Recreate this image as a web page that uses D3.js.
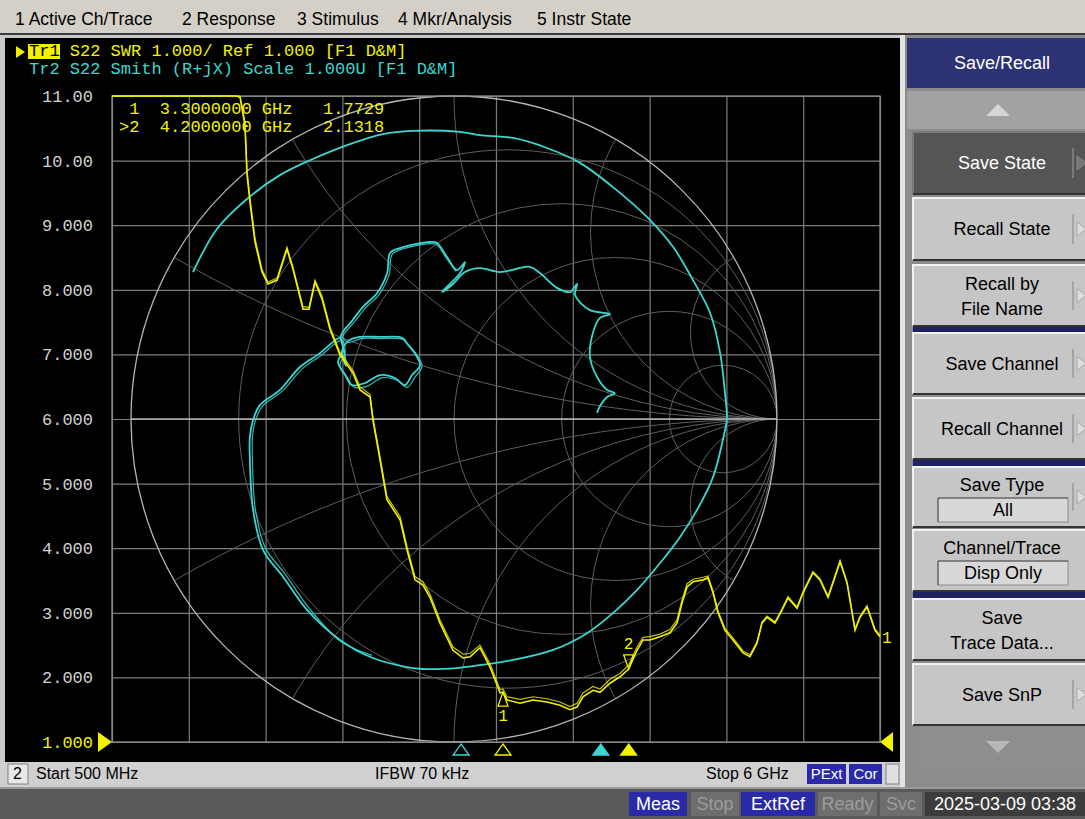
<!DOCTYPE html>
<html>
<head>
<meta charset="utf-8">
<script src="https://cdn.jsdelivr.net/npm/d3@7"></script>
<style>
html, body { margin: 0; padding: 0; background: #d4d0c8; overflow: hidden; }
svg { display: block; }
text { white-space: pre; }
</style>
</head>
<body>
<svg id="chart" width="1085" height="819"></svg>
<script>
// ---- data ----
const menuItems = ["1 Active Ch/Trace", "2 Response", "3 Stimulus", "4 Mkr/Analysis", "5 Instr State"];
const yTicks = [11, 10, 9, 8, 7, 6, 5, 4, 3, 2, 1];
const yTickLabels = ["11.00", "10.00", "9.000", "8.000", "7.000", "6.000", "5.000", "4.000", "3.000", "2.000", "1.000"];

// Tr1: S22 SWR vs frequency (GHz), data and memory
const freqGHz = [0.500,0.772,1.130,1.388,1.417,1.452,1.467,1.488,1.524,1.574,
  1.617,1.682,1.753,1.796,1.868,1.911,1.954,2.004,2.061,2.133,
  2.226,2.276,2.348,2.369,2.419,2.469,2.563,2.613,2.670,2.727,
  2.777,2.849,2.942,3.014,3.064,3.135,3.207,3.279,3.300,3.329,
  3.422,3.515,3.615,3.708,3.780,3.830,3.873,3.945,3.995,4.066,
  4.138,4.200,4.260,4.303,4.353,4.424,4.496,4.546,4.582,4.618,
  4.661,4.732,4.768,4.804,4.840,4.890,4.947,5.019,5.069,5.119,
  5.155,5.191,5.248,5.298,5.341,5.406,5.449,5.520,5.570,5.628,
  5.663,5.714,5.764,5.821,5.857,5.907,5.964,6.000];
const swrData = [14.0,13.2,12.4,11.4,10.98,10.55,9.78,9.36,8.74,8.28,
  8.09,8.15,8.63,8.32,7.70,7.70,8.12,7.86,7.39,6.99,
  6.71,6.45,6.34,5.98,5.37,4.75,4.44,3.97,3.51,3.43,
  3.24,2.84,2.42,2.30,2.32,2.46,2.16,1.76,1.77,1.65,
  1.60,1.65,1.62,1.57,1.50,1.54,1.70,1.80,1.77,1.91,
  2.01,2.13,2.42,2.58,2.58,2.63,2.69,2.84,3.15,3.40,
  3.48,3.51,3.54,3.31,3.00,2.73,2.58,2.38,2.32,2.53,
  2.84,2.93,2.84,3.04,3.23,3.07,3.31,3.62,3.51,3.24,
  3.46,3.79,3.46,2.73,2.93,3.09,2.73,2.63];
const swrMem = [14.2,13.4,12.5,11.5,11.05,10.6,9.85,9.42,8.80,8.32,
  8.12,8.18,8.66,8.35,7.74,7.73,8.15,7.90,7.43,7.03,
  6.75,6.50,6.38,6.02,5.42,4.80,4.49,4.02,3.56,3.48,
  3.29,2.89,2.47,2.36,2.37,2.50,2.21,1.81,1.82,1.70,
  1.66,1.70,1.67,1.62,1.55,1.60,1.76,1.86,1.82,1.97,
  2.06,2.19,2.47,2.62,2.63,2.67,2.74,2.89,3.20,3.45,
  3.52,3.55,3.57,3.34,3.03,2.76,2.61,2.41,2.35,2.55,
  2.86,2.95,2.86,3.06,3.25,3.09,3.33,3.64,3.53,3.26,
  3.48,3.81,3.48,2.75,2.95,3.11,2.75,2.65];

// Tr2: S22 reflection coefficient (real, imag) in sweep order
const gammaRe = [-0.808,-0.734,-0.641,-0.539,-0.437,-0.331,-0.220,-0.127,0.019,0.080,
  0.183,0.288,0.390,0.492,0.598,0.678,0.740,0.793,0.824,0.839,
  0.845,0.839,0.802,0.752,0.700,0.638,0.567,0.492,0.412,0.307,
  0.183,0.080,0.009,-0.096,-0.146,-0.251,-0.353,-0.455,-0.529,-0.591,
  -0.622,-0.632,-0.632,-0.622,-0.601,-0.539,-0.477,-0.415,-0.375,-0.353,
  -0.344,-0.359,-0.337,-0.316,-0.276,-0.229,-0.183,-0.152,-0.130,-0.105,
  -0.124,-0.142,-0.161,-0.229,-0.291,-0.328,-0.347,-0.334,-0.341,-0.350,
  -0.313,-0.282,-0.238,-0.207,-0.198,-0.167,-0.074,-0.053,-0.022,0.009,
  0.034,0.019,-0.022,-0.037,-0.003,0.034,0.080,0.142,0.235,0.266,
  0.319,0.359,0.381,0.375,0.421,0.483,0.452,0.430,0.421,0.443,
  0.474,0.498,0.474,0.452,0.443];
const gammaIm = [0.455,0.588,0.681,0.755,0.805,0.848,0.882,0.892,0.889,0.879,
  0.870,0.839,0.793,0.718,0.625,0.533,0.430,0.328,0.204,0.080,
  0.000,-0.034,-0.180,-0.282,-0.365,-0.446,-0.529,-0.601,-0.663,-0.715,
  -0.746,-0.762,-0.771,-0.774,-0.768,-0.740,-0.684,-0.591,-0.489,-0.406,
  -0.282,-0.127,-0.056,-0.003,0.043,0.090,0.161,0.204,0.238,0.251,
  0.214,0.176,0.136,0.105,0.111,0.136,0.127,0.105,0.136,0.167,
  0.207,0.229,0.251,0.254,0.254,0.241,0.207,0.164,0.214,0.257,
  0.307,0.347,0.390,0.452,0.514,0.529,0.548,0.545,0.502,0.461,
  0.486,0.452,0.409,0.393,0.418,0.455,0.467,0.455,0.471,0.452,
  0.406,0.393,0.418,0.384,0.337,0.325,0.313,0.266,0.192,0.130,
  0.090,0.080,0.068,0.040,0.019];
// memory trace, only where it separates from the data trace
const gammaMemRe = [-0.254,-0.350,-0.450,-0.522,-0.584,-0.615,-0.624,-0.624,-0.615,-0.593,
  -0.531,-0.469,-0.410,-0.370,-0.347,-0.337,-0.353,-0.330,-0.308,-0.268,
  -0.221,-0.175,-0.144,-0.122,-0.099,-0.118,-0.138,-0.158,-0.226,-0.288,
  -0.325,-0.344,-0.307,-0.276,-0.232,-0.201,-0.192,-0.163,-0.073,-0.054,
  -0.023,0.006];
const gammaMemIm = [-0.732,-0.689,-0.584,-0.481,-0.399,-0.279,-0.127,-0.056,-0.005,0.040,
  0.087,0.156,0.198,0.232,0.245,0.206,0.167,0.128,0.098,0.102,
  0.128,0.119,0.098,0.128,0.163,0.203,0.226,0.246,0.249,0.249,
  0.237,0.254,0.302,0.342,0.385,0.447,0.509,0.525,0.543,0.540,
  0.497,0.457];

const smithR = [0.2, 0.5, 1, 2, 5];
const smithX = [0.268, 0.577, 1, 1.732, 3.732];

const tr1MarkerFreq = [3.3, 4.2];
const tr1MarkerSwr = [1.7729, 2.1318];
const tr2MarkerFreq = [3.0, 4.0];

const softkeyLabels = [["Save State"], ["Recall State"], ["Recall by", "File Name"], ["Save Channel"],
  ["Recall Channel"], ["Save Type"], ["Channel/Trace"], ["Save", "Trace Data..."], ["Save SnP"]];
const softkeySettings = ["", "", "", "", "", "All", "Disp Only", "", ""];
const statusItems = ["Meas", "Stop", "ExtRef", "Ready", "Svc"];
const clockText = "2025-03-09 03:38";

// ---- drawing ----
const mono = "'Liberation Mono', 'DejaVu Sans Mono', monospace";
const sans = "'Liberation Sans', Arial, sans-serif";
const YEL = "#f2f200", CYN = "#3cd6d0";

const svg = d3.select("#chart");

// menu bar
svg.append("rect").attr("width", 1085).attr("height", 34).attr("fill", "#d4d0c8");
svg.append("rect").attr("y", 33).attr("width", 1085).attr("height", 2).attr("fill", "#3a3a3a");
const menuX = [15, 182, 297, 398, 537];
svg.selectAll("text.menu").data(menuItems).join("text")
  .attr("class", "menu").attr("x", (d, i) => menuX[i]).attr("y", 25)
  .attr("font-family", sans).attr("font-size", 17.5).attr("fill", "#000").text(d => d);

// chart window
svg.append("rect").attr("x", 0).attr("y", 35).attr("width", 905).attr("height", 727).attr("fill", "#c8c8c8");
svg.append("rect").attr("x", 5).attr("y", 38).attr("width", 895).attr("height", 724).attr("fill", "#000");

const plot = { left: 112, right: 880, top: 96, bottom: 742 };
const x = d3.scaleLinear().domain([0.5, 6]).range([plot.left, plot.right]);
const y = d3.scaleLinear().domain([1, 11]).range([plot.bottom, plot.top]).clamp(true);
const gx = d3.scaleLinear().domain([-1, 1]).range([131, 777]);
const gy = d3.scaleLinear().domain([-1, 1]).range([plot.bottom, plot.top]);
const R = gx(1) - gx(0);

// rectangular graticule
const xGrid = d3.range(11).map(i => 0.5 + i * 0.55);
const gridG = svg.append("g");
gridG.append("g").attr("transform", `translate(0,${plot.bottom})`)
  .call(d3.axisBottom(x).tickValues(xGrid).tickSize(-(plot.bottom - plot.top)).tickFormat(""))
  .call(g => g.select(".domain").remove())
  .call(g => g.selectAll("line").attr("stroke", "#7c7c7c").attr("stroke-width", 1.2));
gridG.append("g").attr("transform", `translate(${plot.left},0)`)
  .call(d3.axisLeft(y).tickValues(yTicks).tickSize(-(plot.right - plot.left)).tickFormat(""))
  .call(g => g.select(".domain").remove())
  .call(g => g.selectAll("line").attr("stroke", "#7c7c7c").attr("stroke-width", 1.2));

// smith grid
svg.append("clipPath").attr("id", "unit").append("circle")
  .attr("cx", gx(0)).attr("cy", gy(0)).attr("r", R);
const sg = svg.append("g").attr("clip-path", "url(#unit)").attr("fill", "none")
  .attr("stroke", "#5e5e5e").attr("stroke-width", 1);
sg.selectAll("circle.r").data(smithR).join("circle").attr("class", "r")
  .attr("cx", r => gx(r / (r + 1))).attr("cy", gy(0)).attr("r", r => R / (r + 1));
const xArcs = smithX.flatMap(v => [v, -v]);
sg.selectAll("circle.x").data(xArcs).join("circle").attr("class", "x")
  .attr("cx", gx(1)).attr("cy", v => gy(1 / v)).attr("r", v => R / Math.abs(v));
svg.append("line").attr("x1", gx(-1)).attr("x2", gx(1)).attr("y1", gy(0)).attr("y2", gy(0))
  .attr("stroke", "#b4b4b4").attr("stroke-width", 1.3);
svg.append("circle").attr("cx", gx(0)).attr("cy", gy(0)).attr("r", R)
  .attr("fill", "none").attr("stroke", "#b4b4b4").attr("stroke-width", 1.3);

// plot frame
svg.append("rect").attr("x", plot.left).attr("y", plot.top)
  .attr("width", plot.right - plot.left).attr("height", plot.bottom - plot.top)
  .attr("fill", "none").attr("stroke", "#8a8a8a").attr("stroke-width", 1.3);

// y labels
const ag = svg.append("g").attr("transform", `translate(${plot.left},0)`)
  .call(d3.axisLeft(y).tickValues(yTicks).tickFormat((d, i) => yTickLabels[i]).tickSize(0).tickPadding(19));
ag.select(".domain").remove();
ag.selectAll("text").attr("font-family", mono).attr("font-size", 17)
  .attr("fill", d => d === 1 ? YEL : "#d2d2d2");

// reference position arrows
svg.append("path").attr("d", `M${plot.left - 14},${y(1) - 10}L${plot.left},${y(1)}L${plot.left - 14},${y(1) + 10}Z`).attr("fill", YEL);
svg.append("path").attr("d", `M${plot.right + 13},${y(1) - 10}L${plot.right},${y(1)}L${plot.right + 13},${y(1) + 10}Z`).attr("fill", YEL);

// Tr2 smith trace (memory then data)
const smithLine = d3.line().x(d => gx(d[0])).y(d => gy(d[1])).curve(d3.curveCatmullRom.alpha(0.5));
svg.append("path").datum(gammaMemRe.map((v, i) => [v, gammaMemIm[i]]))
  .attr("d", smithLine).attr("fill", "none").attr("stroke", CYN).attr("stroke-width", 1.2).attr("opacity", 0.85);
svg.append("path").datum(gammaRe.map((v, i) => [v, gammaIm[i]]))
  .attr("d", smithLine).attr("fill", "none").attr("stroke", CYN).attr("stroke-width", 1.8);

// Tr1 swr trace (memory then data)
const swrLine = d3.line().x(d => x(d[0])).y(d => y(d[1]));
svg.append("path").datum(freqGHz.map((f, i) => [f, swrMem[i]]))
  .attr("d", swrLine).attr("fill", "none").attr("stroke", YEL).attr("stroke-width", 1.2).attr("opacity", 0.8);
svg.append("path").datum(freqGHz.map((f, i) => [f, swrData[i]]))
  .attr("d", swrLine).attr("fill", "none").attr("stroke", YEL).attr("stroke-width", 1.6);

// trace end label
svg.append("text").attr("x", x(6) + 2).attr("y", y(swrData[swrData.length - 1]) + 6)
  .attr("font-family", mono).attr("font-size", 16).attr("fill", YEL).text("1");

// markers on Tr1
const m1x = x(tr1MarkerFreq[0]), m1y = y(tr1MarkerSwr[0]);
svg.append("path").attr("d", `M${m1x},${m1y}L${m1x + 5},${m1y + 14}L${m1x - 5},${m1y + 14}Z`)
  .attr("fill", "none").attr("stroke", YEL).attr("stroke-width", 1.3);
svg.append("text").attr("x", m1x).attr("y", m1y + 29).attr("text-anchor", "middle")
  .attr("font-family", mono).attr("font-size", 16).attr("fill", YEL).text("1");
const m2x = x(tr1MarkerFreq[1]), m2y = y(tr1MarkerSwr[1]);
svg.append("path").attr("d", `M${m2x},${m2y}L${m2x + 5},${m2y - 14}L${m2x - 5},${m2y - 14}Z`)
  .attr("fill", "none").attr("stroke", YEL).attr("stroke-width", 1.3);
svg.append("text").attr("x", m2x).attr("y", m2y - 20).attr("text-anchor", "middle")
  .attr("font-family", mono).attr("font-size", 16).attr("fill", YEL).text("2");

// stimulus marker indicators under the graticule
const tri = (cx, top) => `M${cx},${top}L${cx + 8},${top + 11}L${cx - 8},${top + 11}Z`;
const indicators = [
  { f: tr2MarkerFreq[0], c: CYN, filled: false },
  { f: tr1MarkerFreq[0], c: YEL, filled: false },
  { f: tr2MarkerFreq[1], c: CYN, filled: true },
  { f: tr1MarkerFreq[1], c: YEL, filled: true }
];
svg.selectAll("path.ind").data(indicators).join("path").attr("class", "ind")
  .attr("d", d => tri(x(d.f), plot.bottom + 2))
  .attr("fill", d => d.filled ? d.c : "none").attr("stroke", d => d.c).attr("stroke-width", 1.3);

// marker readout
const fmtF = d3.format(".7f");
const readout = [
  " 1  " + fmtF(tr1MarkerFreq[0]) + " GHz   " + d3.format(".4f")(tr1MarkerSwr[0]),
  ">2  " + fmtF(tr1MarkerFreq[1]) + " GHz   " + d3.format(".4f")(tr1MarkerSwr[1])
];
svg.selectAll("text.readout").data(readout).join("text").attr("class", "readout")
  .attr("x", 119).attr("y", (d, i) => 114 + i * 18)
  .attr("font-family", mono).attr("font-size", 17).attr("fill", YEL).text(d => d);

// trace header
svg.append("path").attr("d", "M16,46L25,52L16,58Z").attr("fill", YEL);
svg.append("rect").attr("x", 28).attr("y", 44).attr("width", 32).attr("height", 15).attr("fill", YEL);
const h1 = svg.append("text").attr("x", 29).attr("y", 56).attr("font-family", mono).attr("font-size", 17);
h1.append("tspan").attr("fill", "#000").text("Tr1");
h1.append("tspan").attr("fill", YEL).text(" S22 SWR 1.000/ Ref 1.000 [F1 D&M]");
svg.append("text").attr("x", 29).attr("y", 74).attr("font-family", mono).attr("font-size", 17)
  .attr("fill", CYN).text("Tr2 S22 Smith (R+jX) Scale 1.000U [F1 D&M]");

// channel status row
svg.append("rect").attr("x", 0).attr("y", 762).attr("width", 905).attr("height", 25).attr("fill", "#d0d0d0");
svg.append("rect").attr("x", 8).attr("y", 764).attr("width", 20).attr("height", 20)
  .attr("fill", "#e8e8e8").attr("stroke", "#808080");
const rowText = [{ t: "2", x: 13 }, { t: "Start 500 MHz", x: 36 }, { t: "IFBW 70 kHz", x: 375 }, { t: "Stop 6 GHz", x: 706 }];
svg.selectAll("text.row").data(rowText).join("text").attr("class", "row")
  .attr("x", d => d.x).attr("y", 779).attr("font-family", sans).attr("font-size", 16)
  .attr("fill", "#000").text(d => d.t);
[{ t: "PExt", x: 807, w: 39 }, { t: "Cor", x: 849, w: 33 }].forEach(b => {
  svg.append("rect").attr("x", b.x).attr("y", 764).attr("width", b.w).attr("height", 20).attr("fill", "#2a2aa8");
  svg.append("text").attr("x", b.x + b.w / 2).attr("y", 779).attr("text-anchor", "middle")
    .attr("font-family", sans).attr("font-size", 15).attr("fill", "#fff").text(b.t);
});
svg.append("rect").attr("x", 886).attr("y", 764).attr("width", 13).attr("height", 20)
  .attr("fill", "#e0e0e0").attr("stroke", "#808080");

// bottom instrument status bar
svg.append("rect").attr("x", 0).attr("y", 787).attr("width", 1085).attr("height", 32).attr("fill", "#5a5a5a");
svg.append("rect").attr("x", 0).attr("y", 787).attr("width", 1085).attr("height", 2).attr("fill", "#9a9a9a");
const statX = [629, 691, 741, 818, 880], statW = [58, 48, 74, 59, 42];
const statOn = [true, false, true, false, false];
statusItems.forEach((s, i) => {
  svg.append("rect").attr("x", statX[i]).attr("y", 792).attr("width", statW[i]).attr("height", 24)
    .attr("fill", statOn[i] ? "#2a2aa8" : "#6e6e6e");
  svg.append("text").attr("x", statX[i] + statW[i] / 2).attr("y", 810).attr("text-anchor", "middle")
    .attr("font-family", sans).attr("font-size", 18).attr("fill", statOn[i] ? "#fff" : "#9c9c9c").text(s);
});
svg.append("rect").attr("x", 925).attr("y", 792).attr("width", 160).attr("height", 24).attr("fill", "#3c3c3c");
svg.append("text").attr("x", 1005).attr("y", 810).attr("text-anchor", "middle")
  .attr("font-family", sans).attr("font-size", 18).attr("fill", "#fff").text(clockText);

// softkey panel
svg.append("rect").attr("x", 900).attr("y", 35).attr("width", 185).attr("height", 752).attr("fill", "#8c8c8c");
svg.append("rect").attr("x", 900).attr("y", 35).attr("width", 7).attr("height", 752).attr("fill", "#e4e4e4");
svg.append("line").attr("x1", 906).attr("x2", 906).attr("y1", 35).attr("y2", 787).attr("stroke", "#303030");
svg.append("rect").attr("x", 907).attr("y", 38).attr("width", 178).attr("height", 50).attr("fill", "#2d3274");
svg.append("text").attr("x", 1002).attr("y", 69).attr("text-anchor", "middle")
  .attr("font-family", sans).attr("font-size", 18).attr("fill", "#fff").text("Save/Recall");
svg.append("rect").attr("x", 907).attr("y", 91).attr("width", 178).attr("height", 38).attr("fill", "#a2a2a2");
svg.append("path").attr("d", "M998,104L1010,116L986,116Z").attr("fill", "#d6d6d6");
svg.append("rect").attr("x", 913).attr("y", 728).attr("width", 172).attr("height", 40).attr("fill", "#8e8e8e");
svg.append("path").attr("d", "M986,741L1010,741L998,753Z").attr("fill", "#b8b8b8");

const keyTop = [132, 198, 265, 333, 398, 467, 530, 599, 664];
const keyH = [62, 62, 61, 61, 61, 60, 61, 61, 61];
const keyArrow = [true, true, true, true, true, true, false, false, true];
[[327, 6], [460, 6], [592, 7]].forEach(s =>
  svg.append("rect").attr("x", 913).attr("y", s[0]).attr("width", 172).attr("height", s[1]).attr("fill", "#1e2260"));

softkeyLabels.forEach((lines, i) => {
  const top = keyTop[i], h = keyH[i], dark = i === 0;
  const g = svg.append("g");
  g.append("rect").attr("x", 913).attr("y", top).attr("width", 172).attr("height", h)
    .attr("fill", dark ? "#555555" : "#c6c6c6");
  g.append("path").attr("d", `M913,${top + h}V${top}H1085`).attr("fill", "none")
    .attr("stroke", dark ? "#7a7a7a" : "#f2f2f2").attr("stroke-width", 2);
  g.append("path").attr("d", `M913,${top + h}H1085`).attr("stroke", "#333").attr("stroke-width", 2);
  if (keyArrow[i]) {
    g.append("line").attr("x1", 1073).attr("x2", 1073).attr("y1", top + 16).attr("y2", top + h - 16)
      .attr("stroke", dark ? "#888" : "#9a9a9a").attr("stroke-width", 1.5);
    g.append("path").attr("d", `M1077,${top + h / 2 - 7}L1086,${top + h / 2}L1077,${top + h / 2 + 7}Z`)
      .attr("fill", dark ? "#777" : "#dedede").attr("stroke", dark ? "#888" : "#a8a8a8");
  }
  const setting = softkeySettings[i];
  const col = dark ? "#ffffff" : "#000000";
  if (setting) {
    g.append("text").attr("x", 1002).attr("y", top + 24).attr("text-anchor", "middle")
      .attr("font-family", sans).attr("font-size", 18).attr("fill", col).text(lines[0]);
    g.append("rect").attr("x", 938).attr("y", top + 31).attr("width", 130).attr("height", 24)
      .attr("fill", "#d8d8d8").attr("stroke", "#8a8a8a");
    g.append("path").attr("d", `M938,${top + 55}V${top + 31}H1068`).attr("fill", "none").attr("stroke", "#555");
    g.append("text").attr("x", 1003).attr("y", top + 49).attr("text-anchor", "middle")
      .attr("font-family", sans).attr("font-size", 18).attr("fill", "#000").text(setting);
  } else if (lines.length === 2) {
    const mid = top + h / 2;
    lines.forEach((l, j) => g.append("text").attr("x", 1002).attr("y", mid - 6 + j * 25)
      .attr("text-anchor", "middle").attr("font-family", sans).attr("font-size", 18).attr("fill", col).text(l));
  } else {
    g.append("text").attr("x", 1002).attr("y", top + h / 2 + 6).attr("text-anchor", "middle")
      .attr("font-family", sans).attr("font-size", 18).attr("fill", col).text(lines[0]);
  }
});
</script>
</body>
</html>
